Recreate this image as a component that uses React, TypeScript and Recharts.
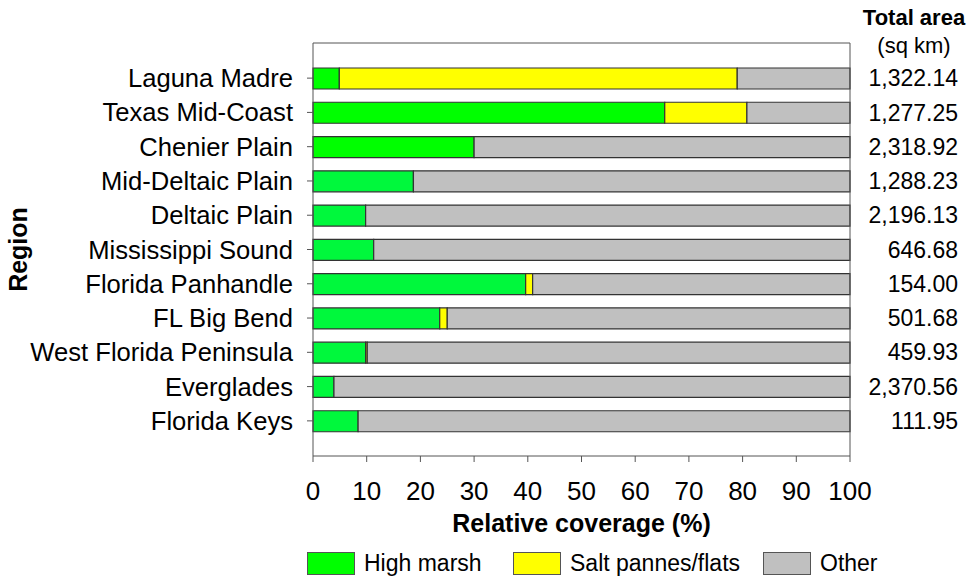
import React from "react";
import { BarChart, Bar, XAxis, YAxis, Cell } from "recharts";

const regions = [
  "Laguna Madre",
  "Texas Mid-Coast",
  "Chenier Plain",
  "Mid-Deltaic Plain",
  "Deltaic Plain",
  "Mississippi Sound",
  "Florida Panhandle",
  "FL Big Bend",
  "West Florida Peninsula",
  "Everglades",
  "Florida Keys",
];
const highMarsh = [4.9, 65.5, 30.0, 18.7, 9.8, 11.3, 39.6, 23.6, 9.8, 3.9, 8.4];
const saltPannes = [74.1, 15.3, 0, 0, 0, 0, 1.3, 1.4, 0.3, 0, 0];
const totalArea = [
  "1,322.14",
  "1,277.25",
  "2,318.92",
  "1,288.23",
  "2,196.13",
  "646.68",
  "154.00",
  "501.68",
  "459.93",
  "2,370.56",
  "111.95",
];
const xTicks = [0, 10, 20, 30, 40, 50, 60, 70, 80, 90, 100];

const data = regions.map((r, i) => ({
  region: r,
  high: highMarsh[i],
  salt: saltPannes[i],
  other: +(100 - highMarsh[i] - saltPannes[i]).toFixed(2),
  total: totalArea[i],
}));

const greenShades = [
  "#00ff00", "#00ff00", "#00ff00", "#00f83c", "#00f83c", "#00f83c",
  "#00f83c", "#00f83c", "#00f83c", "#00f83c", "#00f83c",
];

const FONT = "'Liberation Sans', Arial, sans-serif";
const STROKE = "#333";

const legendItems = [
  { label: "High marsh", color: "#00ff00", left: 307 },
  { label: "Salt pannes/flats", color: "#ffff00", left: 513 },
  { label: "Other", color: "#c0c0c0", left: 763 },
];

export default function App() {
  const totalsByRegion: Record<string, string> = {};
  data.forEach((d) => (totalsByRegion[d.region] = d.total));
  return (
    <div
      style={{
        position: "absolute",
        left: 0,
        top: 0,
        width: 975,
        height: 577,
        background: "#fff",
        fontFamily: FONT,
        overflow: "hidden",
      }}
    >
      <BarChart
        width={975}
        height={577}
        data={data}
        layout="vertical"
        margin={{ top: 42, right: 0, bottom: 63, left: 0 }}
        barSize={21}
      >
        <XAxis
          type="number"
          domain={[0, 100]}
          ticks={xTicks}
          interval={0}
          height={58}
          tickSize={6}
          tickMargin={20}
          stroke="#555"
          tick={{ fontSize: 26, fill: "#000", fontFamily: FONT }}
          label={{
            value: "Relative coverage (%)",
            position: "bottom",
            offset: 0,
            fontSize: 25,
            fontWeight: "bold",
            fill: "#000",
            fontFamily: FONT,
          }}
        />
        <XAxis
          xAxisId="top"
          type="number"
          orientation="top"
          domain={[0, 100]}
          height={1}
          tick={false}
          tickLine={false}
          stroke="#555"
        />
        <YAxis
          type="category"
          dataKey="region"
          width={313}
          padding={{ top: 18, bottom: 18 }}
          tickSize={6}
          tickMargin={14}
          interval={0}
          stroke="#555"
          tick={{ fontSize: 25.6, fill: "#000", fontFamily: FONT }}
          label={{
            value: "Region",
            angle: -90,
            position: "insideLeft",
            offset: 0,
            content: (props: any) => {
              const vb = props.viewBox || { x: 0, y: 43, height: 413 };
              const cx = vb.x + 18;
              const cy = vb.y + vb.height / 2;
              return (
                <text
                  x={cx}
                  y={cy}
                  transform={`rotate(-90 ${cx} ${cy})`}
                  textAnchor="middle"
                  dominantBaseline="central"
                  fontSize={25}
                  fontWeight="bold"
                  fill="#000"
                  fontFamily={FONT}
                >
                  Region
                </text>
              );
            },
          }}
        />
        <YAxis
          yAxisId="right"
          type="category"
          dataKey="region"
          orientation="right"
          width={125}
          padding={{ top: 18, bottom: 18 }}
          tickLine={false}
          tickSize={0}
          tickMargin={108}
          interval={0}
          stroke="#555"
          tickFormatter={(v: string) => totalsByRegion[v]}
          tick={{ fontSize: 23, fill: "#000", fontFamily: FONT, textAnchor: "end" }}
        />
        <Bar dataKey="high" stackId="a" stroke={STROKE} strokeWidth={1.2} isAnimationActive={false}>
          {data.map((d, i) => (
            <Cell key={d.region} fill={greenShades[i]} />
          ))}
        </Bar>
        <Bar dataKey="salt" stackId="a" fill="#ffff00" stroke={STROKE} strokeWidth={1.2} isAnimationActive={false} />
        <Bar dataKey="other" stackId="a" fill="#c0c0c0" stroke={STROKE} strokeWidth={1.2} isAnimationActive={false} />
      </BarChart>

      <div
        style={{
          position: "absolute",
          left: 854,
          width: 120,
          top: 4,
          textAlign: "center",
          fontSize: 22,
          lineHeight: "28px",
          color: "#000",
        }}
      >
        <div style={{ fontWeight: "bold" }}>Total area</div>
        <div>(sq km)</div>
      </div>

      {legendItems.map((it) => (
        <div
          key={it.label}
          style={{
            position: "absolute",
            left: it.left,
            top: 551,
            height: 24,
            display: "flex",
            alignItems: "center",
            fontSize: 23,
            color: "#000",
            whiteSpace: "nowrap",
          }}
        >
          <div
            style={{
              width: 46,
              height: 21,
              background: it.color,
              border: "1.5px solid #555",
              marginRight: 9,
            }}
          />
          <span>{it.label}</span>
        </div>
      ))}
    </div>
  );
}
